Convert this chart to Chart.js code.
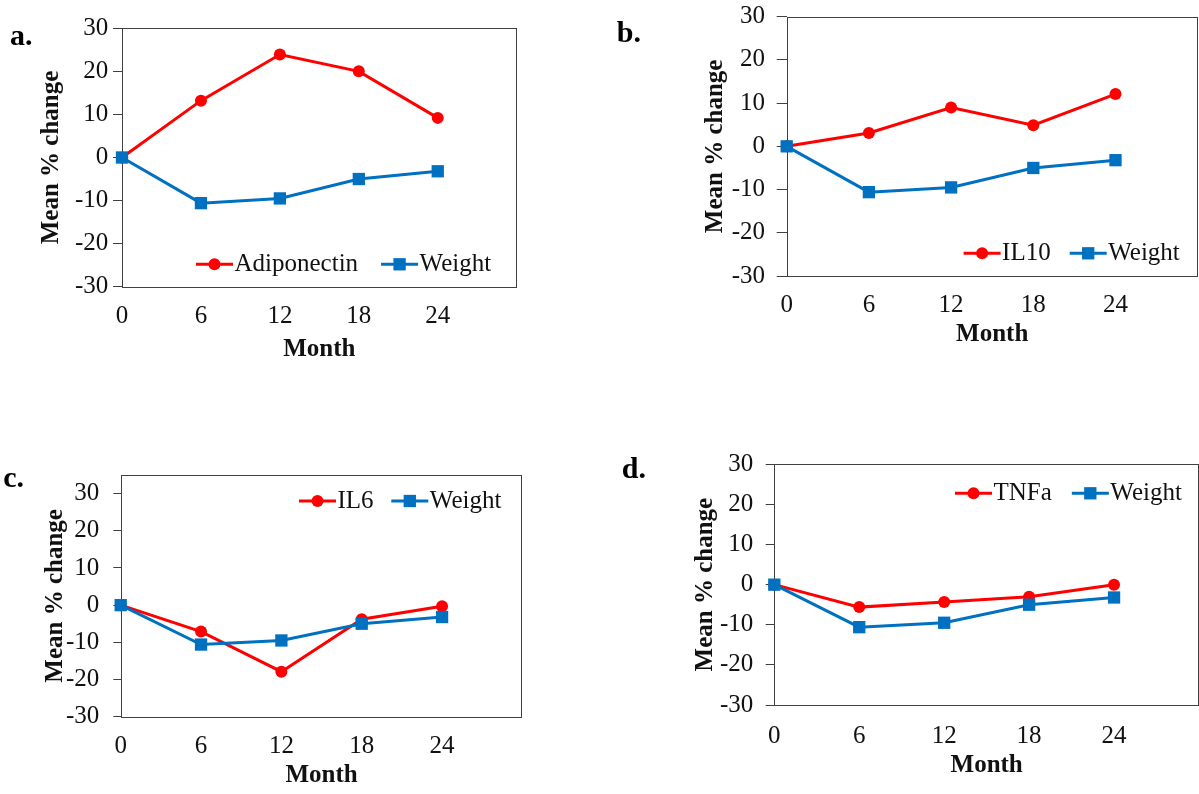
<!DOCTYPE html>
<html><head><meta charset="utf-8">
<script src="https://cdn.jsdelivr.net/npm/chart.js@4.4.1/dist/chart.umd.min.js"></script>
<style>
html,body{margin:0;padding:0;background:#fff;overflow:hidden;width:1199px;height:794px;}
.panel{position:absolute;}
canvas{display:block;}
</style></head><body>
<div class="panel" style="left:0;top:0;"><canvas id="ca" width="600" height="397"></canvas></div>
<div class="panel" style="left:600px;top:0;"><canvas id="cb" width="599" height="397"></canvas></div>
<div class="panel" style="left:0;top:397px;"><canvas id="cc" width="600" height="397"></canvas></div>
<div class="panel" style="left:600px;top:397px;"><canvas id="cd" width="599" height="397"></canvas></div>
<script>
// ---- data ----
const months = [0, 6, 12, 18, 24];
const xTickValues = [0, 6, 12, 18, 24];
const yTickValues = [-30, -20, -10, 0, 10, 20, 30];
const weight = [0, -10.6, -9.5, -5.0, -3.2];
const adiponectin = [0, 13.2, 23.9, 20.0, 9.2];
const il10 = [0, 3.1, 9.0, 4.9, 12.1];
const il6 = [0, -7.1, -17.9, -3.8, -0.3];
const tnfa = [0, -5.6, -4.3, -3.0, 0];
const panelLetters = ['a.', 'b.', 'c.', 'd.'];
const seriesNames = ['Adiponectin', 'IL10', 'IL6', 'TNFa'];
const weightName = 'Weight';
const xTitle = 'Month';
const yTitle = 'Mean % change';
const yMaxes = [30, 30, 35, 30];
const xMax = 30;
const yMin = -30;

// ---- style / layout ----
const FONT = '"Liberation Serif", "Times New Roman", serif';
const FS = 25, LH = FS * 1.2;
const RED = '#FF0000', BLUE = '#0070C0', AX = '#404040', TXT = '#111111';
// target geometry in canvas-local pixels
const layouts = [
  {id:'ca', W:600, H:397, plotL:122,   plotR:516.7, plotT:28.3, plotB:286.7, titleX:51.8,  xTickY:316.7, monthY:349.2, tl:9,   yPad:4.7,  legX:196,   legY:264.3, legGap:23,   labX:10,   labY:45},
  {id:'cb', W:599, H:397, plotL:186.7, plotR:597.7, plotT:16.7, plotB:276,   titleX:115.8, xTickY:305,   monthY:334.2, tl:10,  yPad:11.7, legX:363.6, legY:253.3, legGap:19,   labX:16.7, labY:41.7},
  {id:'cc', W:600, H:397, plotL:120.7, plotR:522.4, plotT:78,   plotB:319.7, titleX:55.2,  xTickY:349.7, monthY:378.8, tl:7.4, yPad:14,   legX:299,   legY:104,   legGap:17.7, labX:3.3,  labY:89.7},
  {id:'cd', W:599, H:397, plotL:174.3, plotR:599,   plotT:67.3, plotB:308,   titleX:105.2, xTickY:339.3, monthY:368.8, tl:8.6, yPad:12.4, legX:355,   legY:96.3,  legGap:20,   labX:21.7, labY:81.3}
];
const seriesData = [adiponectin, il10, il6, tnfa];

function decoPlugin(L, letter) {
  return {
    id: 'deco',
    beforeDatasetsDraw(chart) {
      const {left, top, right, bottom} = chart.chartArea;
      const c = chart.ctx;
      c.save();
      c.strokeStyle = AX; c.lineWidth = 1;
      const l = Math.round(left) + 0.5, t = Math.round(top) + 0.5;
      const r = Math.round(right) - 0.5, b = Math.round(bottom) + 0.5;
      c.strokeRect(l, t, r - l, b - t);
      c.restore();
    },
    afterDraw(chart) {
      const c = chart.ctx;
      c.save();
      c.font = FS + 'px ' + FONT;
      c.textBaseline = 'middle';
      c.textAlign = 'left';
      let x = L.legX;
      const y = L.legY;
      chart.data.datasets.forEach(ds => {
        c.strokeStyle = ds.borderColor; c.lineWidth = 3;
        c.beginPath(); c.moveTo(x, y); c.lineTo(x + 37, y); c.stroke();
        c.fillStyle = ds.borderColor;
        const mx = x + 18.5;
        if (ds.pointStyle === 'rect') {
          const s = ds.pointRadius * Math.SQRT1_2;
          c.fillRect(mx - s, y - s, 2 * s, 2 * s);
        } else {
          c.beginPath(); c.arc(mx, y, ds.pointRadius, 0, Math.PI * 2); c.fill();
        }
        c.fillStyle = TXT;
        c.fillText(ds.label, x + 38.5, y);
        x += 38.5 + c.measureText(ds.label).width + L.legGap;
      });
      c.font = 'bold 30px ' + FONT;
      c.textBaseline = 'alphabetic';
      c.fillStyle = '#000';
      c.fillText(letter, L.labX, L.labY);
      c.restore();
    }
  };
}

function makeChart(i) {
  const L = layouts[i];
  const padL = L.titleX - LH / 2;
  const yW = L.plotL - padL;
  const padR = Math.max(0, L.W - L.plotR);
  const padT = L.plotT;
  const xBottom = L.monthY + LH / 2;
  const padB = L.H - xBottom;
  const xH = xBottom - L.plotB;
  const xPad = L.xTickY - L.plotB - LH / 2;
  const tickFont = {size: FS, family: FONT};
  const titleFont = {size: FS, family: FONT, weight: 'bold'};
  return new Chart(document.getElementById(L.id), {
    type: 'line',
    data: {
      datasets: [
        {label: seriesNames[i], data: months.map((m, k) => ({x: m, y: seriesData[i][k]})),
         borderColor: RED, backgroundColor: RED, pointBackgroundColor: RED, pointBorderColor: RED,
         pointStyle: 'circle', pointRadius: 6, pointBorderWidth: 0, borderWidth: 3,
         tension: 0, order: 1, clip: false},
        {label: weightName, data: months.map((m, k) => ({x: m, y: weight[k]})),
         borderColor: BLUE, backgroundColor: BLUE, pointBackgroundColor: BLUE, pointBorderColor: BLUE,
         pointStyle: 'rect', pointRadius: 8.7, pointBorderWidth: 0, borderWidth: 3,
         tension: 0, order: 0, clip: false}
      ]
    },
    options: {
      responsive: false, animation: false, events: [],
      layout: {autoPadding: false, padding: {left: padL, right: padR, top: padT, bottom: padB}},
      plugins: {legend: {display: false}, tooltip: {enabled: false}},
      scales: {
        x: {
          type: 'linear', min: 0, max: xMax,
          border: {display: false},
          grid: {display: false, drawTicks: false},
          ticks: {autoSkip: false, maxRotation: 0, padding: xPad, font: tickFont, color: TXT},
          title: {display: true, text: xTitle, font: titleFont, color: TXT, padding: 0},
          afterBuildTicks: s => { s.ticks = xTickValues.map(v => ({value: v})); },
          afterFit: s => { s.height = xH; s.paddingLeft = 0; s.paddingRight = 0; }
        },
        y: {
          type: 'linear', min: yMin, max: yMaxes[i],
          border: {display: false},
          grid: {drawOnChartArea: false, drawTicks: true, tickLength: L.tl, color: AX, tickColor: AX, lineWidth: 1},
          ticks: {padding: L.yPad, font: tickFont, color: TXT},
          title: {display: true, text: yTitle, font: titleFont, color: TXT, padding: 0},
          afterBuildTicks: s => { s.ticks = yTickValues.map(v => ({value: v})); },
          afterFit: s => { s.width = yW; s.paddingTop = 0; s.paddingBottom = 0; }
        }
      }
    },
    plugins: [decoPlugin(L, panelLetters[i])]
  });
}
[0, 1, 2, 3].forEach(makeChart);
</script>
</body></html>
